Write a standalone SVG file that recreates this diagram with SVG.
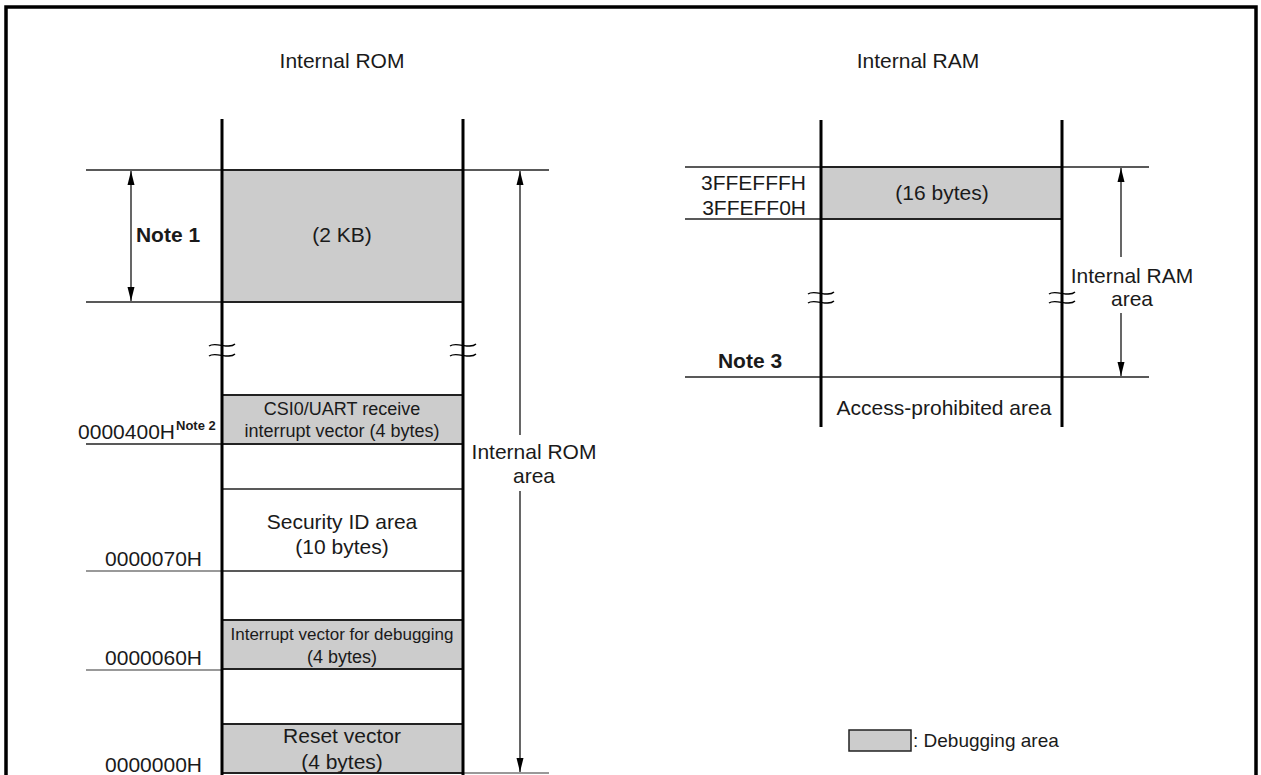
<svg xmlns="http://www.w3.org/2000/svg" width="1261" height="775" viewBox="0 0 1261 775">
<defs>
<marker id="ah" viewBox="0 0 14 8" refX="14" refY="4" markerWidth="14" markerHeight="8" markerUnits="userSpaceOnUse" orient="auto-start-reverse"><path d="M0,0.5 L14,4 L0,7.5 Z" fill="#000"/></marker>
</defs>
<style>
.t{font-family:"Liberation Sans",Arial,sans-serif;font-size:21px;fill:#1a1a1a}
.c{text-anchor:middle}
.e{text-anchor:end}
.b{font-weight:bold}
.s{font-size:18px}
.col{stroke:#000;stroke-width:3;fill:none}
.h{stroke:#222;stroke-width:1.5;fill:none}
.hg{stroke:#777;stroke-width:1.6;fill:none}
.dbg{fill:#cccccc;stroke:#222;stroke-width:2}
.brk{stroke:#000;stroke-width:1.3;fill:none}
.arr{stroke:#000;stroke-width:1.2;fill:none}
</style>
<rect width="1261" height="775" fill="#fff"/>
<rect id="frame" x="6" y="7" width="1250" height="800" fill="none" stroke="#000" stroke-width="3.5"/>

<g id="rom">
  <text class="t c" x="342" y="68">Internal ROM</text>
  <rect class="dbg" x="222" y="170" width="241" height="132"/>
  <rect class="dbg" x="222" y="395" width="241" height="49"/>
  <rect class="dbg" x="222" y="620" width="241" height="49"/>
  <rect class="dbg" x="222" y="724" width="241" height="49"/>
  <line class="h" x1="86" y1="170" x2="549" y2="170"/>
  <line class="h" x1="86" y1="302" x2="222" y2="302"/>
  <line class="h" x1="86" y1="444" x2="222" y2="444"/>
  <line class="h" x1="222" y1="489" x2="463" y2="489"/>
  <line class="h" x1="222" y1="571" x2="463" y2="571"/>
  <line class="hg" x1="86" y1="571" x2="222" y2="571"/>
  <line class="hg" x1="86" y1="670" x2="222" y2="670"/>
  <line class="hg" x1="463" y1="773" x2="549" y2="773"/>
  <line class="col" x1="222" y1="119" x2="222" y2="775"/>
  <line class="col" x1="463" y1="119" x2="463" y2="775"/>
  <path class="brk" d="M209,346 C215,341 229,350 235,344 M209,356 C215,351 229,360 235,354"/>
  <path class="brk" d="M450,346 C456,341 470,350 476,344 M450,356 C456,351 470,360 476,354"/>
</g>

<g id="rom-labels">
  <text class="t b c" x="168" y="242">Note 1</text>
  <text class="t c" x="342" y="242">(2 KB)</text>
  <text class="t s c" x="342" y="415">CSI0/UART receive</text>
  <text class="t s c" x="342" y="437">interrupt vector (4 bytes)</text>
  <text class="t e" x="175" y="439">0000400H</text>
  <text class="t b" x="176" y="430" style="font-size:13px">Note 2</text>
  <text class="t c" x="342" y="529">Security ID area</text>
  <text class="t c" x="342" y="554">(10 bytes)</text>
  <text class="t e" x="202" y="566">0000070H</text>
  <text class="t c" x="342" y="640" style="font-size:17px">Interrupt vector for debugging</text>
  <text class="t s c" x="342" y="663">(4 bytes)</text>
  <text class="t e" x="202" y="665">0000060H</text>
  <text class="t c" x="342" y="743">Reset vector</text>
  <text class="t c" x="342" y="769">(4 bytes)</text>
  <text class="t e" x="202" y="772">0000000H</text>
  <text class="t c" x="534" y="459">Internal ROM</text>
  <text class="t c" x="534" y="483">area</text>
</g>

<g id="ram">
  <text class="t c" x="918" y="68">Internal RAM</text>
  <rect class="dbg" x="821" y="167" width="241" height="52"/>
  <line class="h" x1="685" y1="167" x2="1149" y2="167"/>
  <line class="h" x1="685" y1="219" x2="821" y2="219"/>
  <line class="h" x1="685" y1="377" x2="1149" y2="377"/>
  <line class="col" x1="821" y1="120" x2="821" y2="427"/>
  <line class="col" x1="1062" y1="120" x2="1062" y2="427"/>
  <path class="brk" d="M808,294 C814,289 828,298 834,292 M808,303 C814,298 828,307 834,301"/>
  <path class="brk" d="M1049,294 C1055,289 1069,298 1075,292 M1049,303 C1055,298 1069,307 1075,301"/>
  <text class="t e" x="806" y="190">3FFEFFFH</text>
  <text class="t e" x="806" y="215">3FFEFF0H</text>
  <text class="t c" x="942" y="200">(16 bytes)</text>
  <text class="t c" x="1132" y="283">Internal RAM</text>
  <text class="t c" x="1132" y="306">area</text>
  <text class="t b c" x="750" y="368">Note 3</text>
  <text class="t c" x="944" y="415">Access-prohibited area</text>
</g>

<g id="legend">
  <rect class="dbg" x="849" y="730" width="62" height="21" style="stroke-width:1.5"/>
  <text class="t" x="913" y="747" style="font-size:19px">: Debugging area</text>
</g>

<g id="connectors">
  <line class="arr" x1="131" y1="171" x2="131" y2="301" marker-start="url(#ah)" marker-end="url(#ah)"/>
  <line class="arr" x1="520" y1="435" x2="520" y2="171" marker-end="url(#ah)"/>
  <line class="arr" x1="520" y1="491" x2="520" y2="772" marker-end="url(#ah)"/>
  <line class="arr" x1="1121" y1="257" x2="1121" y2="168" marker-end="url(#ah)"/>
  <line class="arr" x1="1121" y1="313" x2="1121" y2="376" marker-end="url(#ah)"/>
</g>
</svg>
